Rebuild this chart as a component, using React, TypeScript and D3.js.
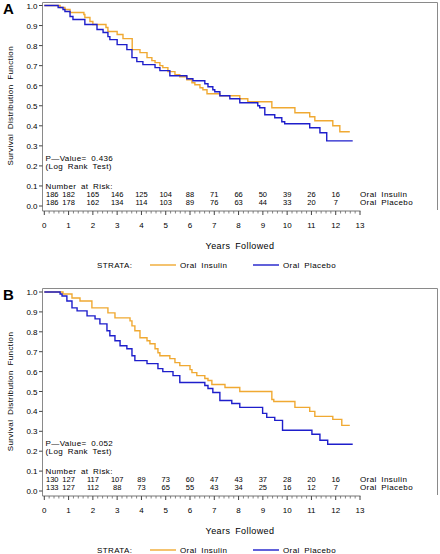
import React from "react";
import * as d3 from "d3";

// ---------- data ----------
const xTicks = [0, 1, 2, 3, 4, 5, 6, 7, 8, 9, 10, 11, 12, 13];
const yTicks = [0, 0.1, 0.2, 0.3, 0.4, 0.5, 0.6, 0.7, 0.8, 0.9, 1.0];
const riskTimes = [0, 1, 2, 3, 4, 5, 6, 7, 8, 9, 10, 11, 12];

// Panel A
const insulinA_t = [0.65, 0.85, 1.06, 1.63, 1.67, 1.88, 2.0, 2.54, 2.62, 3.0, 3.24, 3.62, 3.94, 4.23, 4.43, 4.56, 4.76, 4.88, 5.09, 5.38, 5.58, 5.87, 6.08, 6.2, 6.41, 6.53, 6.7, 7.23, 8.05, 8.38, 9.37, 10.32, 10.93, 11.14, 11.88, 12.17];
const insulinA_s = [0.99, 0.98, 0.965, 0.955, 0.94, 0.92, 0.905, 0.89, 0.87, 0.855, 0.835, 0.78, 0.765, 0.74, 0.725, 0.715, 0.7, 0.69, 0.67, 0.655, 0.645, 0.63, 0.615, 0.605, 0.59, 0.58, 0.56, 0.55, 0.535, 0.52, 0.49, 0.465, 0.445, 0.425, 0.4, 0.37];
const insulinA_end = 12.58;
const placeboA_t = [0.57, 0.77, 0.85, 1.06, 1.18, 1.67, 2.17, 2.42, 2.62, 2.7, 3.0, 3.4, 3.61, 3.81, 4.06, 4.56, 4.76, 5.17, 5.87, 6.12, 6.61, 6.74, 6.94, 7.02, 7.23, 7.64, 8.05, 8.79, 8.87, 9.08, 9.49, 9.78, 9.9, 10.93, 11.35, 11.63];
const placeboA_s = [0.99, 0.98, 0.97, 0.945, 0.93, 0.905, 0.88, 0.865, 0.845, 0.83, 0.805, 0.78, 0.74, 0.72, 0.705, 0.69, 0.675, 0.65, 0.635, 0.625, 0.61, 0.595, 0.58, 0.57, 0.55, 0.535, 0.515, 0.5, 0.49, 0.455, 0.44, 0.42, 0.41, 0.39, 0.365, 0.325];
const placeboA_end = 12.7;
const riskInsulinA = [186, 182, 165, 146, 125, 104, 88, 71, 66, 50, 39, 26, 16];
const riskPlaceboA = [186, 178, 162, 134, 114, 103, 89, 76, 63, 44, 33, 20, 7];
const pValueA = "0.436";

// Panel B
const insulinB_t = [0.77, 1.14, 1.47, 1.96, 2.62, 2.91, 3.53, 3.61, 3.73, 3.94, 4.23, 4.35, 4.56, 4.68, 4.76, 5.17, 5.38, 5.58, 6.0, 6.08, 6.28, 6.61, 6.74, 6.9, 7.44, 8.05, 9.37, 9.45, 10.32, 10.93, 11.14, 11.88, 12.25];
const insulinB_s = [0.99, 0.97, 0.955, 0.92, 0.895, 0.87, 0.855, 0.83, 0.805, 0.77, 0.755, 0.74, 0.715, 0.695, 0.68, 0.665, 0.645, 0.63, 0.61, 0.595, 0.58, 0.565, 0.555, 0.535, 0.52, 0.5, 0.46, 0.45, 0.42, 0.4, 0.375, 0.36, 0.33];
const insulinB_end = 12.58;
const placeboB_t = [0.65, 0.73, 0.93, 1.14, 1.35, 1.76, 2.09, 2.29, 2.58, 2.7, 2.91, 3.12, 3.4, 3.61, 3.73, 4.23, 4.68, 4.88, 5.3, 5.58, 6.61, 6.74, 6.94, 7.23, 7.72, 8.05, 8.99, 9.16, 9.49, 9.81, 11.02, 11.35, 11.67];
const placeboB_s = [0.99, 0.98, 0.955, 0.92, 0.905, 0.88, 0.865, 0.84, 0.805, 0.78, 0.755, 0.73, 0.715, 0.68, 0.655, 0.64, 0.615, 0.6, 0.58, 0.545, 0.53, 0.515, 0.495, 0.455, 0.44, 0.42, 0.39, 0.37, 0.355, 0.305, 0.285, 0.255, 0.235];
const placeboB_end = 12.7;
const riskInsulinB = [130, 127, 117, 107, 89, 73, 60, 47, 43, 37, 28, 20, 16];
const riskPlaceboB = [133, 127, 112, 88, 73, 65, 55, 43, 34, 25, 16, 12, 7];
const pValueB = "0.052";

const groupNames = ["Oral Insulin", "Oral Placebo"];

// ---------- styles ----------
const ORANGE = "#F0A932";
const BLUE = "#1E1ECB";
const FONT = "'Liberation Sans', Arial, Helvetica, sans-serif";
const txt = { fontFamily: FONT, fontSize: 8, letterSpacing: 0.4, wordSpacing: 2, fill: "#000" } as any;

type PanelProps = {
  label: string;
  frameTop: number;
  y0: number;
  y1: number;
  ins: [number[], number[], number];
  pla: [number[], number[], number];
  riskIns: number[];
  riskPla: number[];
  pval: string;
};

function Panel({ label, frameTop, y0, y1, ins, pla, riskIns, riskPla, pval }: PanelProps) {
  const x = d3.scaleLinear().domain([0, 13]).range([44.3, 360]);
  const y = d3.scaleLinear().domain([0, 1]).range([y1, y0]);
  const axisY = y1 + 5;
  const left = 42.5;
  const right = 437.5;
  const line = d3
    .line<[number, number]>()
    .x((d) => x(d[0]))
    .y((d) => y(d[1]))
    .curve(d3.curveStepAfter);
  const mk = ([t, s, end]: [number[], number[], number]) => {
    const pts: [number, number][] = [[0, 1]];
    t.forEach((ti, i) => pts.push([ti, s[i]]));
    pts.push([end, s[s.length - 1]]);
    return line(pts) || "";
  };
  const minor = d3.range(0, 13.001, 0.2).filter((v) => Math.abs(v - Math.round(v)) > 0.01);
  const fmt = d3.format(".1f");
  const yMid = (y0 + y1) / 2;
  return (
    <g>
      <text x={3} y={frameTop + 11.5} style={{ fontFamily: FONT, fontSize: 15, fontWeight: "bold" }}>
        {label}
      </text>
      {/* frame */}
      <path
        d={`M${left},${axisY}V${frameTop}H${right}V${axisY - 1}`}
        fill="none"
        stroke="#8a8a8a"
        strokeWidth={1}
      />
      <line x1={left} x2={x(13) + 0.5} y1={axisY} y2={axisY} stroke="#777" strokeWidth={1} />
      {/* y ticks */}
      {yTicks.map((v) => (
        <g key={v}>
          <line x1={left - 3.5} x2={left} y1={y(v)} y2={y(v)} stroke="#444" strokeWidth={1} />
          <text x={37.5} y={y(v) + 3} textAnchor="end" style={{ ...txt, letterSpacing: 0, wordSpacing: 0 }}>
            {fmt(v)}
          </text>
        </g>
      ))}
      {/* x ticks */}
      {xTicks.map((v) => (
        <g key={v}>
          <line x1={x(v)} x2={x(v)} y1={axisY} y2={axisY + 4} stroke="#444" strokeWidth={1} />
          <text x={x(v)} y={axisY + 17} textAnchor="middle" style={{ ...txt, letterSpacing: 0, wordSpacing: 0 }}>
            {v}
          </text>
        </g>
      ))}
      {minor.map((v, i) => (
        <line key={i} x1={x(v)} x2={x(v)} y1={axisY} y2={axisY + 2.5} stroke="#666" strokeWidth={0.8} />
      ))}
      {/* axis labels */}
      <text
        transform={`translate(13,${yMid}) rotate(-90)`}
        textAnchor="middle"
        style={txt}
      >
        Survival Distribution Function
      </text>
      <text x={240} y={y1 + 42.5} textAnchor="middle" style={{ ...txt, fontSize: 9 }}>
        Years Followed
      </text>
      {/* curves */}
      <path d={mk(ins)} fill="none" stroke={ORANGE} strokeWidth={1.4} />
      <path d={mk(pla)} fill="none" stroke={BLUE} strokeWidth={1.4} />
      {/* annotations */}
      <text x={45.5} y={y1 - 45} style={txt}>{`P\u2014Value= ${pval}`}</text>
      <text x={45.5} y={y1 - 37} style={txt}>(Log Rank Test)</text>
      <text x={45.5} y={y1 - 17.5} style={txt}>Number at Risk:</text>
      {riskTimes.map((t, i) => (
        <g key={t}>
          <text
            x={i === 0 ? 46 : x(t)}
            y={y1 - 9.5}
            textAnchor={i === 0 ? "start" : "middle"}
            style={{ ...txt, fontSize: 7.5, letterSpacing: 0, wordSpacing: 0 }}
          >
            {riskIns[i]}
          </text>
          <text
            x={i === 0 ? 46 : x(t)}
            y={y1 - 1}
            textAnchor={i === 0 ? "start" : "middle"}
            style={{ ...txt, fontSize: 7.5, letterSpacing: 0, wordSpacing: 0 }}
          >
            {riskPla[i]}
          </text>
        </g>
      ))}
      <text x={360} y={y1 - 9.5} style={txt}>{groupNames[0]}</text>
      <text x={360} y={y1 - 1} style={txt}>{groupNames[1]}</text>
      {/* legend */}
      <text x={97} y={y1 + 62} style={txt}>STRATA:</text>
      <line x1={150} x2={176} y1={y1 + 59} y2={y1 + 59} stroke={ORANGE} strokeWidth={1.4} />
      <text x={180} y={y1 + 62} style={txt}>{groupNames[0]}</text>
      <line x1={253} x2={279} y1={y1 + 59} y2={y1 + 59} stroke={BLUE} strokeWidth={1.4} />
      <text x={283} y={y1 + 62} style={txt}>{groupNames[1]}</text>
    </g>
  );
}

export default function App() {
  return (
    <svg
      width={440}
      height={554}
      style={{ position: "absolute", left: 0, top: 0, background: "#fff" }}
    >
      <rect width={440} height={554} fill="#fff" />
      <Panel
        label="A"
        frameTop={2.5}
        y0={5.5}
        y1={206}
        ins={[insulinA_t, insulinA_s, insulinA_end]}
        pla={[placeboA_t, placeboA_s, placeboA_end]}
        riskIns={riskInsulinA}
        riskPla={riskPlaceboA}
        pval={pValueA}
      />
      <Panel
        label="B"
        frameTop={288.5}
        y0={292}
        y1={491}
        ins={[insulinB_t, insulinB_s, insulinB_end]}
        pla={[placeboB_t, placeboB_s, placeboB_end]}
        riskIns={riskInsulinB}
        riskPla={riskPlaceboB}
        pval={pValueB}
      />
    </svg>
  );
}
